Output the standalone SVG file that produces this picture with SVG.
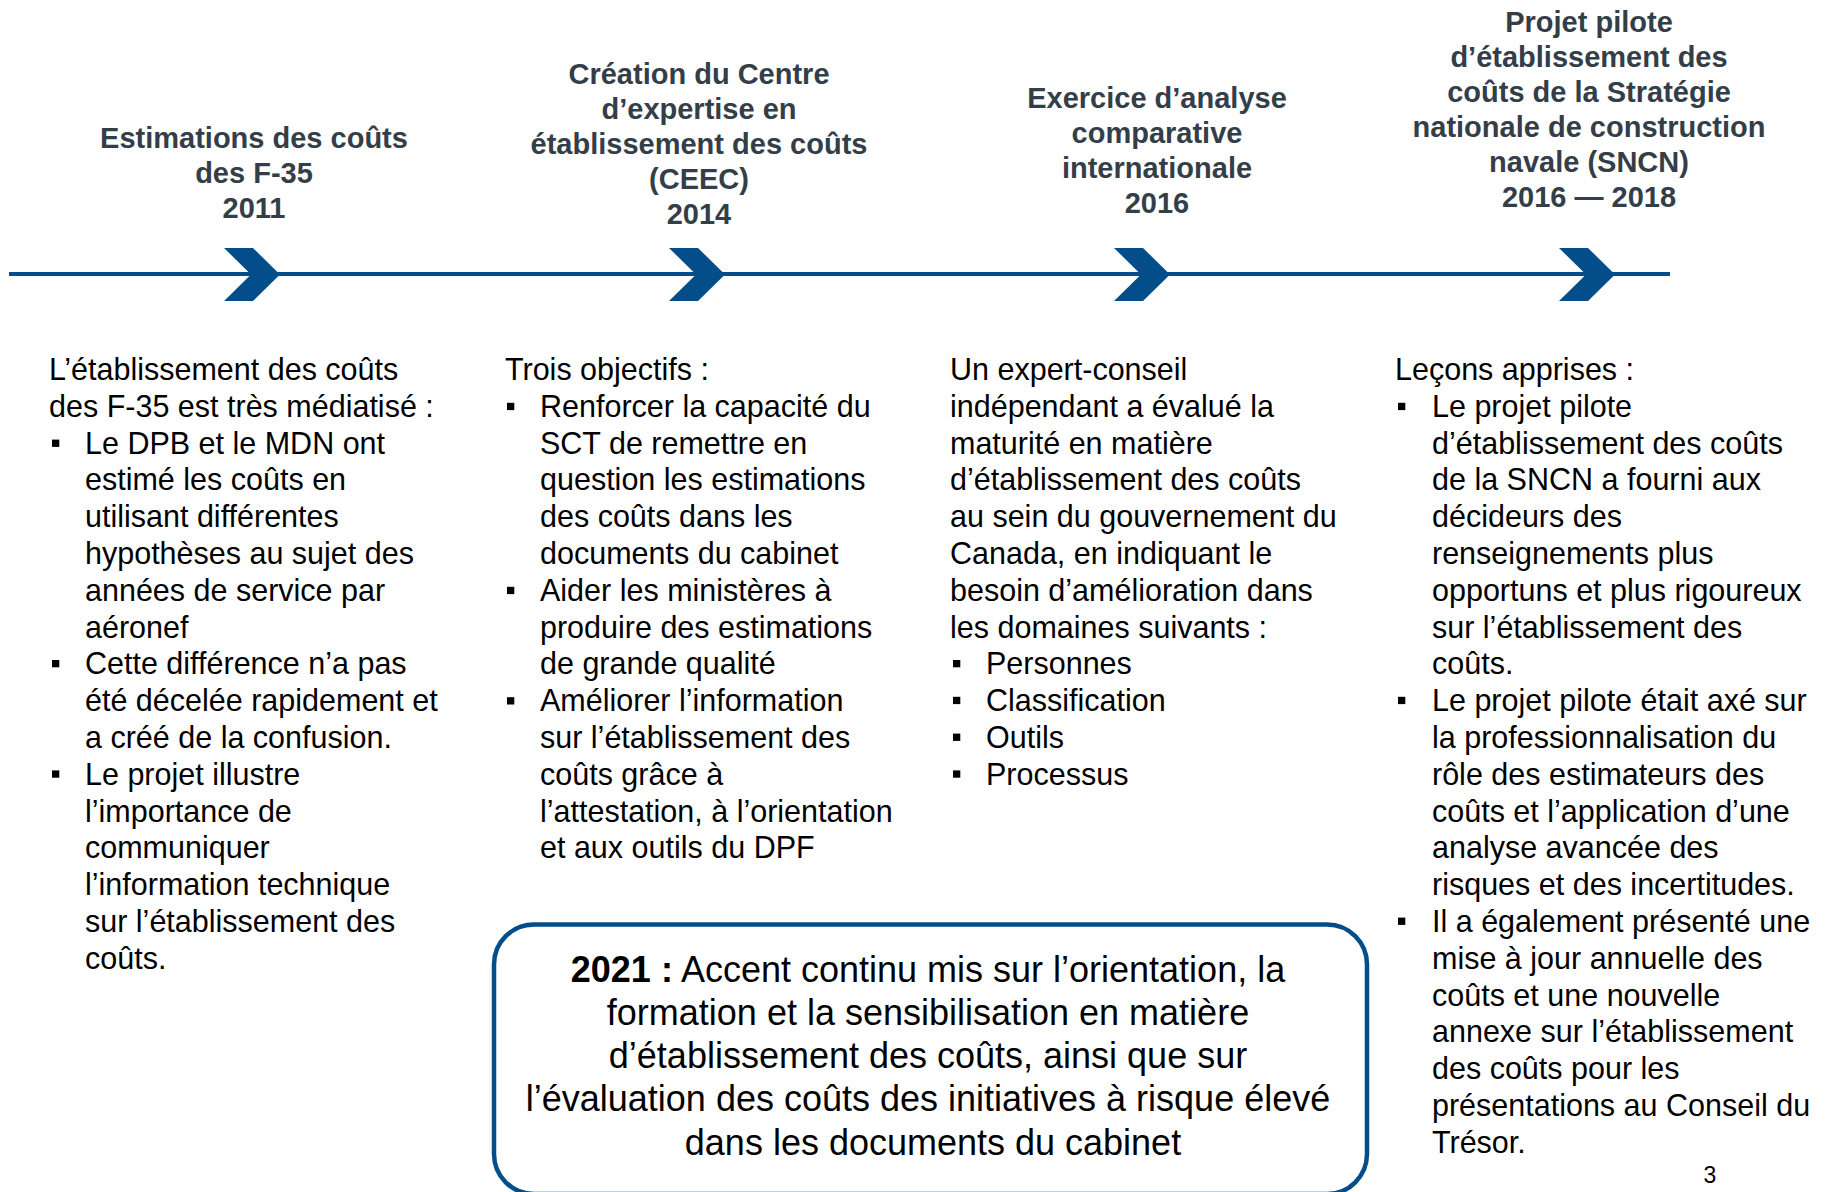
<svg xmlns="http://www.w3.org/2000/svg" xmlns:xlink="http://www.w3.org/1999/xlink" width="1825" height="1192" viewBox="0 0 1825 1192">
<style>
.hd{font-family:"Liberation Sans",Arial,sans-serif;font-weight:bold;font-size:29px;fill:#333E48;text-anchor:middle}
.bd{font-family:"Liberation Sans",Arial,sans-serif;font-size:30.5px;fill:#000}
.bx{font-family:"Liberation Sans",Arial,sans-serif;font-size:36px;fill:#000;text-anchor:middle}
.bul{fill:#000}
.chev{fill:#034E8A}
.tl{stroke:#034E8A;stroke-width:4;fill:none}
.box{stroke:#034E8A;stroke-width:4.5;fill:none}
</style>
<defs>
<path id="chevron" d="M0,0 H29 L56,26.5 L29,53 H0 L27,26.5 Z"/>
<rect id="bullet" width="7.3" height="7.3"/>
</defs>
<rect width="1825" height="1192" fill="#fff"/>

<g id="connectors">
<line class="tl" x1="9" y1="274" x2="1670" y2="274"/>
</g>

<g id="milestone-2011">
<use xlink:href="#chevron" class="chev" x="224" y="248"/>
<text class="hd"><tspan x="254" y="147.5">Estimations des coûts</tspan><tspan x="254" y="182.5">des F-35</tspan><tspan x="254" y="217.5">2011</tspan></text>
</g>

<g id="milestone-2014">
<use xlink:href="#chevron" class="chev" x="669" y="248"/>
<text class="hd"><tspan x="699" y="84">Création du Centre</tspan><tspan x="699" y="119">d’expertise en</tspan><tspan x="699" y="154">établissement des coûts</tspan><tspan x="699" y="189">(CEEC)</tspan><tspan x="699" y="224">2014</tspan></text>
</g>

<g id="milestone-2016">
<use xlink:href="#chevron" class="chev" x="1114" y="248"/>
<text class="hd"><tspan x="1157" y="107.5">Exercice d’analyse</tspan><tspan x="1157" y="142.5">comparative</tspan><tspan x="1157" y="177.5">internationale</tspan><tspan x="1157" y="212.5">2016</tspan></text>
</g>

<g id="milestone-2016-2018">
<use xlink:href="#chevron" class="chev" x="1559" y="248"/>
<text class="hd"><tspan x="1589" y="31.5">Projet pilote</tspan><tspan x="1589" y="66.5">d’établissement des</tspan><tspan x="1589" y="101.5">coûts de la Stratégie</tspan><tspan x="1589" y="136.5">nationale de construction</tspan><tspan x="1589" y="171.5">navale (SNCN)</tspan><tspan x="1589" y="206.5">2016 — 2018</tspan></text>
</g>

<g id="col-2011">
<use xlink:href="#bullet" class="bul" x="52" y="439.6"/>
<use xlink:href="#bullet" class="bul" x="52" y="660"/>
<use xlink:href="#bullet" class="bul" x="52" y="770.4"/>
<text class="bd">
<tspan x="49" y="380">L’établissement des coûts</tspan>
<tspan x="49" y="416.8">des F-35 est très médiatisé :</tspan>
<tspan x="85" y="453.6">Le DPB et le MDN ont</tspan>
<tspan x="85" y="490.4">estimé les coûts en</tspan>
<tspan x="85" y="527.2">utilisant différentes</tspan>
<tspan x="85" y="564">hypothèses au sujet des</tspan>
<tspan x="85" y="600.8">années de service par</tspan>
<tspan x="85" y="637.6">aéronef</tspan>
<tspan x="85" y="674.4">Cette différence n’a pas</tspan>
<tspan x="85" y="711.2">été décelée rapidement et</tspan>
<tspan x="85" y="748">a créé de la confusion.</tspan>
<tspan x="85" y="784.8">Le projet illustre</tspan>
<tspan x="85" y="821.6">l’importance de</tspan>
<tspan x="85" y="858.4">communiquer</tspan>
<tspan x="85" y="895.2">l’information technique</tspan>
<tspan x="85" y="932">sur l’établissement des</tspan>
<tspan x="85" y="968.8">coûts.</tspan>
</text>
</g>

<g id="col-2014">
<use xlink:href="#bullet" class="bul" x="507" y="402.8"/>
<use xlink:href="#bullet" class="bul" x="507" y="586.8"/>
<use xlink:href="#bullet" class="bul" x="507" y="697.2"/>
<text class="bd">
<tspan x="505" y="380">Trois objectifs :</tspan>
<tspan x="540" y="416.8">Renforcer la capacité du</tspan>
<tspan x="540" y="453.6">SCT de remettre en</tspan>
<tspan x="540" y="490.4">question les estimations</tspan>
<tspan x="540" y="527.2">des coûts dans les</tspan>
<tspan x="540" y="564">documents du cabinet</tspan>
<tspan x="540" y="600.8">Aider les ministères à</tspan>
<tspan x="540" y="637.6">produire des estimations</tspan>
<tspan x="540" y="674.4">de grande qualité</tspan>
<tspan x="540" y="711.2">Améliorer l’information</tspan>
<tspan x="540" y="748">sur l’établissement des</tspan>
<tspan x="540" y="784.8">coûts grâce à</tspan>
<tspan x="540" y="821.6">l’attestation, à l’orientation</tspan>
<tspan x="540" y="858.4">et aux outils du DPF</tspan>
</text>
</g>

<g id="col-2016">
<use xlink:href="#bullet" class="bul" x="953" y="660"/>
<use xlink:href="#bullet" class="bul" x="953" y="696.8"/>
<use xlink:href="#bullet" class="bul" x="953" y="733.6"/>
<use xlink:href="#bullet" class="bul" x="953" y="770.4"/>
<text class="bd">
<tspan x="950" y="380">Un expert-conseil</tspan>
<tspan x="950" y="416.8">indépendant a évalué la</tspan>
<tspan x="950" y="453.6">maturité en matière</tspan>
<tspan x="950" y="490.4">d’établissement des coûts</tspan>
<tspan x="950" y="527.2">au sein du gouvernement du</tspan>
<tspan x="950" y="564">Canada, en indiquant le</tspan>
<tspan x="950" y="600.8">besoin d’amélioration dans</tspan>
<tspan x="950" y="637.6">les domaines suivants :</tspan>
<tspan x="986" y="674.4">Personnes</tspan>
<tspan x="986" y="711.2">Classification</tspan>
<tspan x="986" y="748">Outils</tspan>
<tspan x="986" y="784.8">Processus</tspan>
</text>
</g>

<g id="col-2016-2018">
<use xlink:href="#bullet" class="bul" x="1398" y="402.8"/>
<use xlink:href="#bullet" class="bul" x="1398" y="696.8"/>
<use xlink:href="#bullet" class="bul" x="1398" y="917.6"/>
<text class="bd">
<tspan x="1395" y="380">Leçons apprises :</tspan>
<tspan x="1432" y="416.8">Le projet pilote</tspan>
<tspan x="1432" y="453.6">d’établissement des coûts</tspan>
<tspan x="1432" y="490.4">de la SNCN a fourni aux</tspan>
<tspan x="1432" y="527.2">décideurs des</tspan>
<tspan x="1432" y="564">renseignements plus</tspan>
<tspan x="1432" y="600.8">opportuns et plus rigoureux</tspan>
<tspan x="1432" y="637.6">sur l’établissement des</tspan>
<tspan x="1432" y="674.4">coûts.</tspan>
<tspan x="1432" y="711.2">Le projet pilote était axé sur</tspan>
<tspan x="1432" y="748">la professionnalisation du</tspan>
<tspan x="1432" y="784.8">rôle des estimateurs des</tspan>
<tspan x="1432" y="821.6">coûts et l’application d’une</tspan>
<tspan x="1432" y="858.4">analyse avancée des</tspan>
<tspan x="1432" y="895.2">risques et des incertitudes.</tspan>
<tspan x="1432" y="932">Il a également présenté une</tspan>
<tspan x="1432" y="968.8">mise à jour annuelle des</tspan>
<tspan x="1432" y="1005.6">coûts et une nouvelle</tspan>
<tspan x="1432" y="1042.4">annexe sur l’établissement</tspan>
<tspan x="1432" y="1079.2">des coûts pour les</tspan>
<tspan x="1432" y="1116">présentations au Conseil du</tspan>
<tspan x="1432" y="1152.8">Trésor.</tspan>
</text>
</g>

<g id="box-2021">
<rect class="box" x="494" y="924.5" width="873" height="269.5" rx="40" ry="40"/>
<text class="bx">
<tspan x="933" y="981.5"><tspan font-weight="bold">2021 :</tspan> Accent continu mis sur l’orientation, la</tspan>
<tspan x="933" y="1024.8">formation et la sensibilisation en matière</tspan>
<tspan x="933" y="1068.1">d’établissement des coûts, ainsi que sur</tspan>
<tspan x="933" y="1111.4">l’évaluation des coûts des initiatives à risque élevé</tspan>
<tspan x="933" y="1154.7">dans les documents du cabinet</tspan>
</text>
</g>

<g id="page-number">
<text x="1710" y="1183" font-family="Liberation Sans, Arial, sans-serif" font-size="23" text-anchor="middle" fill="#000">3</text>
</g>
</svg>
